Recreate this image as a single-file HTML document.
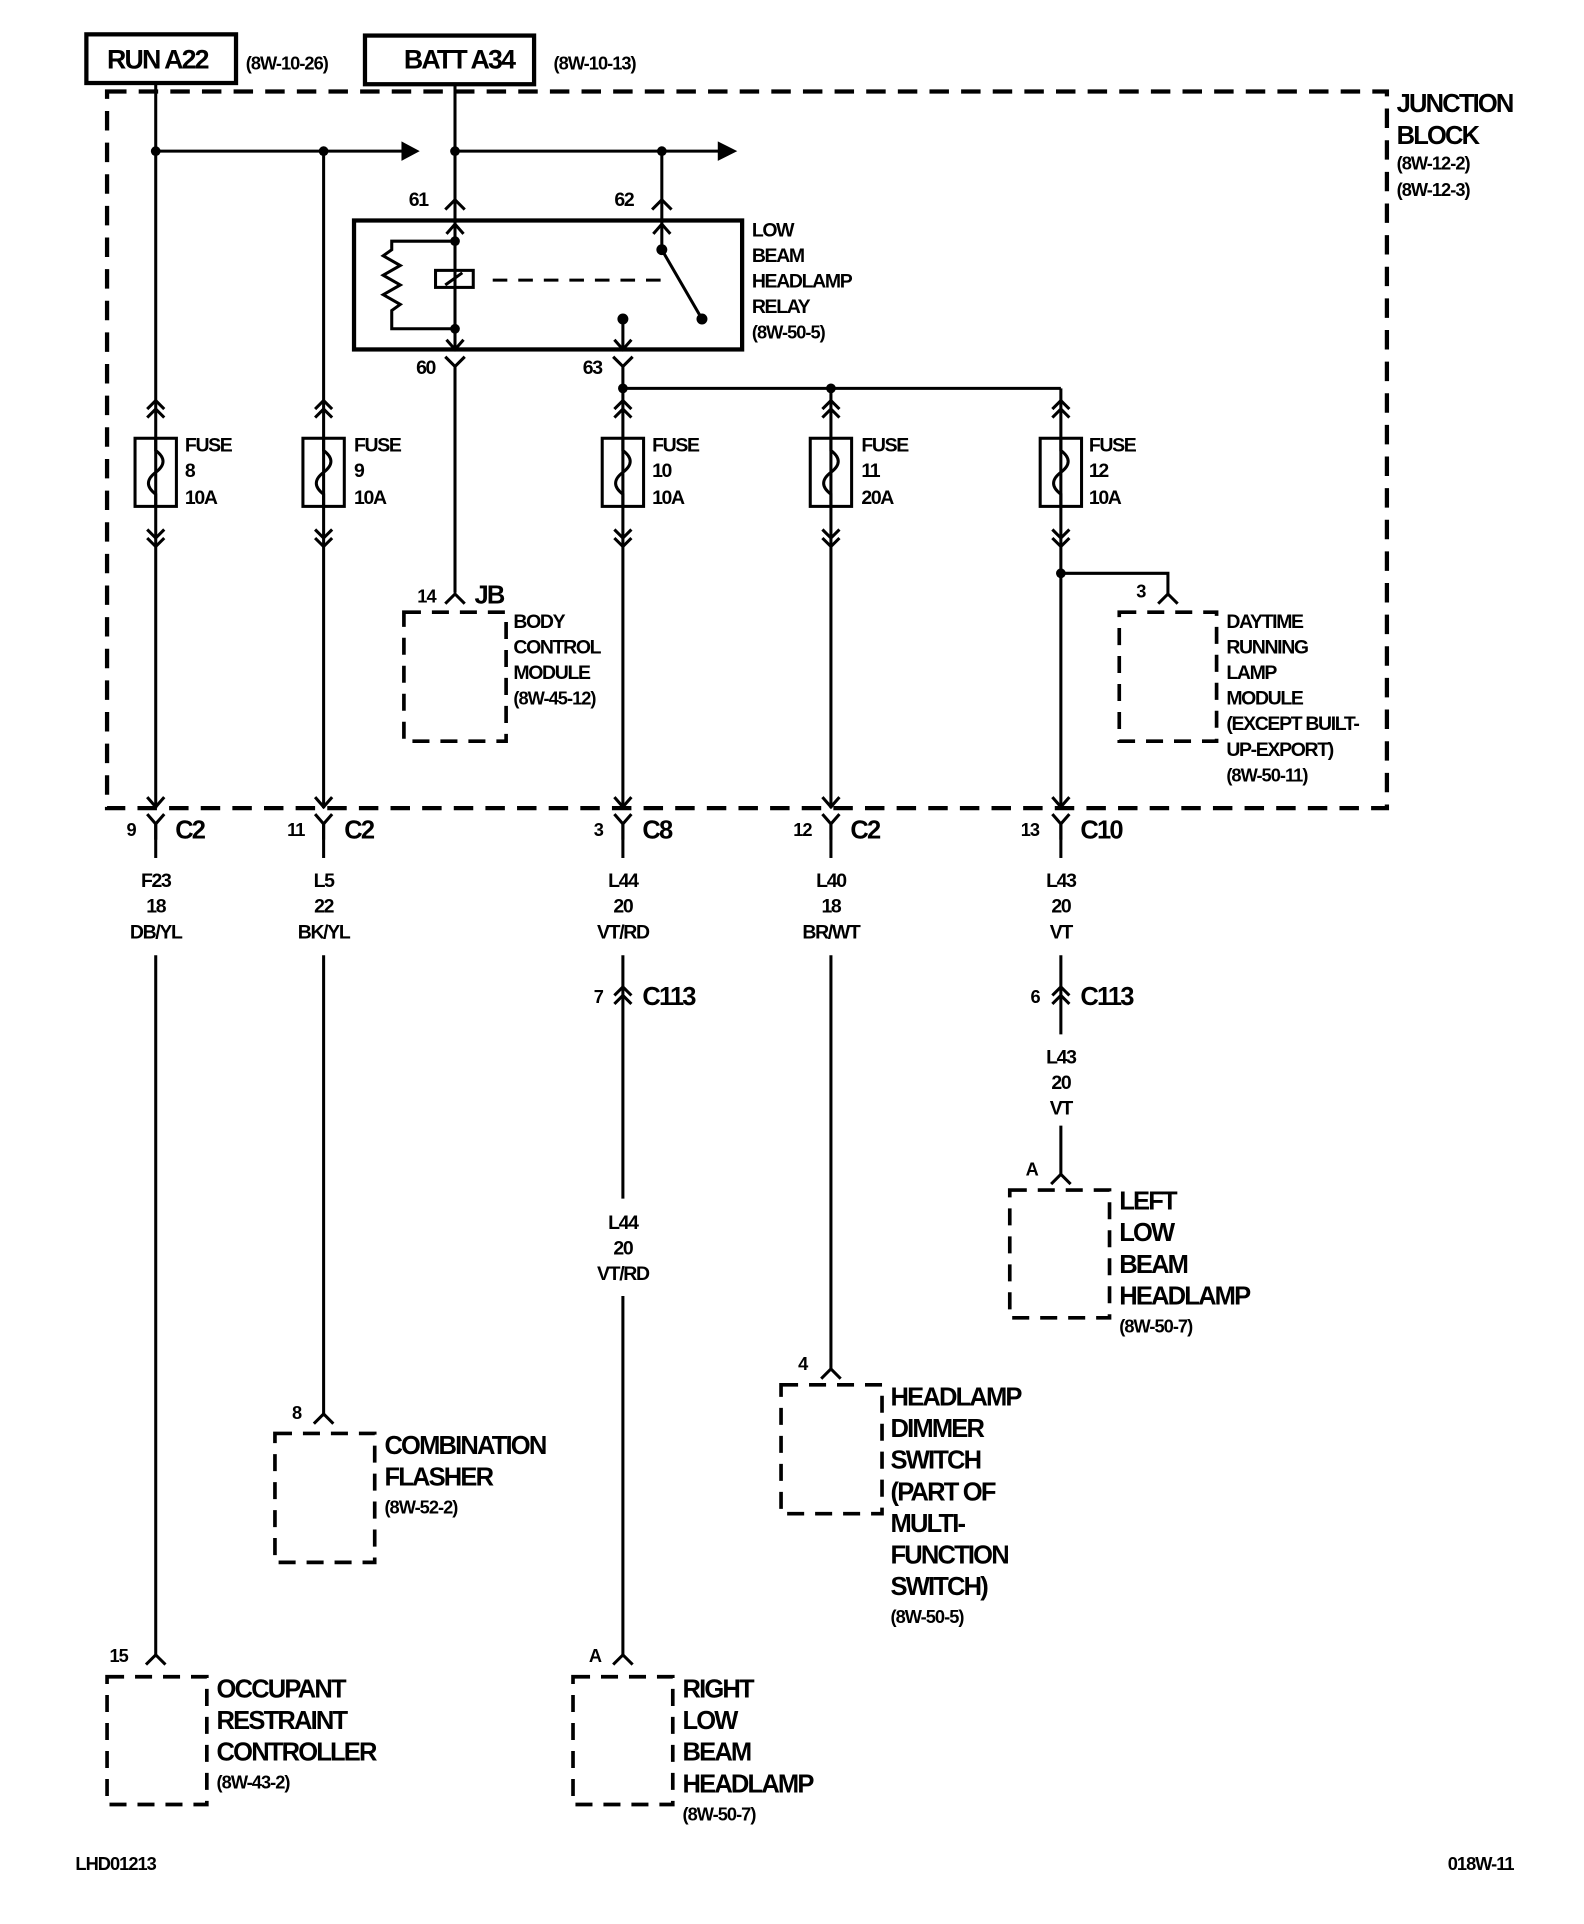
<!DOCTYPE html>
<html><head><meta charset="utf-8">
<style>
html,body{margin:0;padding:0;background:#fff;}
svg{display:block;}
text{font-family:"Liberation Sans Narrow","Liberation Sans",sans-serif;font-weight:bold;fill:#000;}
.s{font-size:15px;letter-spacing:-0.8px;}
.m{font-size:16px;letter-spacing:-1.1px;}
.b{font-size:21px;letter-spacing:-1.5px;}
</style></head><body>
<svg width="1584" height="1924" viewBox="0 0 1302 1581" xmlns="http://www.w3.org/2000/svg">
<g fill="none" stroke="#000" stroke-width="2.5">
<rect x="71" y="28" width="123" height="40" stroke-width="3.5"/>
<rect x="300" y="29" width="139" height="40" stroke-width="3.5"/>
<rect x="88" y="75" width="1052" height="589" stroke-width="3.5" stroke-dasharray="16 10"/>
<line x1="128" y1="68" x2="128" y2="664"/>
<line x1="128" y1="124" x2="332" y2="124"/>
<line x1="266" y1="124" x2="266" y2="664"/>
<line x1="374" y1="69" x2="374" y2="180"/>
<line x1="374" y1="124" x2="592" y2="124"/>
<line x1="544" y1="124" x2="544" y2="180"/>
<rect x="291" y="181" width="319" height="106" stroke-width="3.5"/>
<path d="M374 180 V287"/>
<path d="M374 198 H322 V205 l-7 5 l14 8 l-14 8 l14 8 l-14 8 l14 8 l-7 5 V270 H374"/>
<rect x="358" y="222" width="31" height="14"/>
<line x1="366" y1="234" x2="380" y2="224"/>
<line x1="405" y1="230" x2="545" y2="230" stroke-dasharray="12 9"/>
<path d="M544 180 V205 L577 262"/>
<path d="M512 262 V287"/>
<path d="M505 279 L512 287 L519 279"/>
<path d="M367 279 L374 287 L381 279"/>
<path d="M367 192 L374 184 L381 192"/>
<path d="M537 192 L544 184 L551 192"/>
<path d="M366 172 L374 164 L382 172"/>
<path d="M536 172 L544 164 L552 172"/>
<path d="M366 293 L374 301 L382 293 M374 301 V487"/>
<path d="M504 293 L512 301 L520 293 M512 301 V664"/>
<line x1="512" y1="319" x2="872" y2="319"/>
<line x1="683" y1="319" x2="683" y2="664"/>
<line x1="872" y1="319" x2="872" y2="664"/>
<path d="M366 496 L374 488 L382 496"/>
<rect x="332" y="503" width="84" height="106" stroke-width="3" stroke-dasharray="14 9"/>
<path d="M872 471 H960 V490"/>
<path d="M952 496 L960 488 L968 496"/>
<rect x="920" y="503" width="80" height="106" stroke-width="3" stroke-dasharray="14 9"/>
<line x1="128" y1="675" x2="128" y2="705"/><line x1="128" y1="785" x2="128" y2="1362"/>
<line x1="266" y1="675" x2="266" y2="705"/><line x1="266" y1="785" x2="266" y2="1164"/>
<line x1="512" y1="675" x2="512" y2="705"/><line x1="512" y1="785" x2="512" y2="985"/><line x1="512" y1="1065" x2="512" y2="1362"/>
<line x1="683" y1="675" x2="683" y2="705"/><line x1="683" y1="785" x2="683" y2="1125"/>
<line x1="872" y1="675" x2="872" y2="705"/><line x1="872" y1="785" x2="872" y2="850"/><line x1="872" y1="925" x2="872" y2="965"/>
<path d="M505 818 L512 811 L519 818 M505 825 L512 818 L519 825"/>
<path d="M865 818 L872 811 L879 818 M865 825 L872 818 L879 825"/>
<path d="M120 1368 L128 1360 L136 1368"/>
<path d="M258 1170 L266 1162 L274 1170"/>
<path d="M504 1368 L512 1360 L520 1368"/>
<path d="M675 1133 L683 1125 L691 1133"/>
<path d="M864 973 L872 965 L880 973"/>
<rect x="830" y="978" width="82" height="105" stroke-width="3" stroke-dasharray="14 9"/>
<rect x="642" y="1138" width="83" height="106" stroke-width="3" stroke-dasharray="14 9"/>
<rect x="226" y="1178" width="82" height="106" stroke-width="3" stroke-dasharray="14 9"/>
<rect x="88" y="1378" width="82" height="105" stroke-width="3" stroke-dasharray="14 9"/>
<rect x="471" y="1378" width="82" height="105" stroke-width="3" stroke-dasharray="14 9"/>
</g>
<g fill="#000">
<polygon points="330,116 345,124 330,132"/>
<polygon points="590,116 606,124 590,132"/>
<circle cx="128" cy="124" r="4"/><circle cx="266" cy="124" r="4"/>
<circle cx="374" cy="124" r="4"/><circle cx="544" cy="124" r="4"/>
<circle cx="374" cy="198" r="4"/><circle cx="374" cy="270" r="4"/>
<circle cx="544" cy="205" r="4.5"/><circle cx="577" cy="262" r="4.5"/><circle cx="512" cy="262" r="4.5"/>
<circle cx="512" cy="319" r="4"/><circle cx="683" cy="319" r="4"/><circle cx="872" cy="471" r="4"/>
</g>
<g fill="none" stroke="#000" stroke-width="2.5">
<g transform="translate(128,0)"><path d="M-7 336 L0 329 L7 336 M-7 343 L0 336 L7 343"/><rect x="-17" y="360" width="34" height="56"/><path d="M0 360 V370 c8 6 8 12 0 18 c-8 6 -8 12 0 18 V416"/><path d="M-7 435 L0 442 L7 435 M-7 442 L0 449 L7 442"/><path d="M-7 655 L0 663 L7 655"/><path d="M-7 669 L0 677 L7 669 M0 677 V690"/></g>
<g transform="translate(266,0)"><path d="M-7 336 L0 329 L7 336 M-7 343 L0 336 L7 343"/><rect x="-17" y="360" width="34" height="56"/><path d="M0 360 V370 c8 6 8 12 0 18 c-8 6 -8 12 0 18 V416"/><path d="M-7 435 L0 442 L7 435 M-7 442 L0 449 L7 442"/><path d="M-7 655 L0 663 L7 655"/><path d="M-7 669 L0 677 L7 669 M0 677 V690"/></g>
<g transform="translate(512,0)"><path d="M-7 336 L0 329 L7 336 M-7 343 L0 336 L7 343"/><rect x="-17" y="360" width="34" height="56"/><path d="M0 360 V370 c8 6 8 12 0 18 c-8 6 -8 12 0 18 V416"/><path d="M-7 435 L0 442 L7 435 M-7 442 L0 449 L7 442"/><path d="M-7 655 L0 663 L7 655"/><path d="M-7 669 L0 677 L7 669 M0 677 V690"/></g>
<g transform="translate(683,0)"><path d="M-7 336 L0 329 L7 336 M-7 343 L0 336 L7 343"/><rect x="-17" y="360" width="34" height="56"/><path d="M0 360 V370 c8 6 8 12 0 18 c-8 6 -8 12 0 18 V416"/><path d="M-7 435 L0 442 L7 435 M-7 442 L0 449 L7 442"/><path d="M-7 655 L0 663 L7 655"/><path d="M-7 669 L0 677 L7 669 M0 677 V690"/></g>
<g transform="translate(872,0)"><path d="M-7 336 L0 329 L7 336 M-7 343 L0 336 L7 343"/><rect x="-17" y="360" width="34" height="56"/><path d="M0 360 V370 c8 6 8 12 0 18 c-8 6 -8 12 0 18 V416"/><path d="M-7 435 L0 442 L7 435 M-7 442 L0 449 L7 442"/><path d="M-7 655 L0 663 L7 655"/><path d="M-7 669 L0 677 L7 669 M0 677 V690"/></g>
</g>
<text x="88" y="56" style="font-size:22px;letter-spacing:-1.5px">RUN A22</text>
<text x="202" y="57" class="s">(8W-10-26)</text>
<text x="332" y="56" style="font-size:22px;letter-spacing:-1.5px">BATT A34</text>
<text x="455" y="57" class="s">(8W-10-13)</text>
<text x="1148" y="92" class="b">JUNCTION</text>
<text x="1148" y="118" class="b">BLOCK</text>
<text x="1148" y="139" class="s">(8W-12-2)</text>
<text x="1148" y="161" class="s">(8W-12-3)</text>
<text x="336" y="169" class="m">61</text>
<text x="505" y="169" class="m">62</text>
<text x="342" y="307" class="m">60</text>
<text x="479" y="307" class="m">63</text>
<text x="618" y="194" class="m">LOW</text>
<text x="618" y="215" class="m">BEAM</text>
<text x="618" y="236" class="m">HEADLAMP</text>
<text x="618" y="257" class="m">RELAY</text>
<text x="618" y="278" class="s">(8W-50-5)</text>
<text x="152" y="371" class="m">FUSE</text><text x="152" y="392" class="m">8</text><text x="152" y="414" class="m">10A</text>
<text x="291" y="371" class="m">FUSE</text><text x="291" y="392" class="m">9</text><text x="291" y="414" class="m">10A</text>
<text x="536" y="371" class="m">FUSE</text><text x="536" y="392" class="m">10</text><text x="536" y="414" class="m">10A</text>
<text x="708" y="371" class="m">FUSE</text><text x="708" y="392" class="m">11</text><text x="708" y="414" class="m">20A</text>
<text x="895" y="371" class="m">FUSE</text><text x="895" y="392" class="m">12</text><text x="895" y="414" class="m">10A</text>
<text x="343" y="495" class="s">14</text><text x="390" y="496" class="b">JB</text>
<text x="422" y="516" class="m">BODY</text><text x="422" y="537" class="m">CONTROL</text><text x="422" y="558" class="m">MODULE</text><text x="422" y="579" class="s">(8W-45-12)</text>
<text x="934" y="491" class="s">3</text>
<text x="1008" y="516" class="m">DAYTIME</text><text x="1008" y="537" class="m">RUNNING</text><text x="1008" y="558" class="m">LAMP</text><text x="1008" y="579" class="m">MODULE</text><text x="1008" y="600" class="m">(EXCEPT BUILT-</text><text x="1008" y="621" class="m">UP-EXPORT)</text><text x="1008" y="642" class="s">(8W-50-11)</text>
<text x="104" y="687" class="s">9</text><text x="144" y="689" class="b">C2</text>
<text x="236" y="687" class="s">11</text><text x="283" y="689" class="b">C2</text>
<text x="488" y="687" class="s">3</text><text x="528" y="689" class="b">C8</text>
<text x="652" y="687" class="s">12</text><text x="699" y="689" class="b">C2</text>
<text x="839" y="687" class="s">13</text><text x="888" y="689" class="b">C10</text>
<g text-anchor="middle">
<text x="128" y="729" class="m">F23</text><text x="128" y="750" class="m">18</text><text x="128" y="771" class="m">DB/YL</text>
<text x="266" y="729" class="m">L5</text><text x="266" y="750" class="m">22</text><text x="266" y="771" class="m">BK/YL</text>
<text x="512" y="729" class="m">L44</text><text x="512" y="750" class="m">20</text><text x="512" y="771" class="m">VT/RD</text>
<text x="683" y="729" class="m">L40</text><text x="683" y="750" class="m">18</text><text x="683" y="771" class="m">BR/WT</text>
<text x="872" y="729" class="m">L43</text><text x="872" y="750" class="m">20</text><text x="872" y="771" class="m">VT</text>
<text x="872" y="874" class="m">L43</text><text x="872" y="895" class="m">20</text><text x="872" y="916" class="m">VT</text>
<text x="512" y="1010" class="m">L44</text><text x="512" y="1031" class="m">20</text><text x="512" y="1052" class="m">VT/RD</text>
</g>
<text x="488" y="824" class="s">7</text><text x="528" y="826" class="b">C113</text>
<text x="847" y="824" class="s">6</text><text x="888" y="826" class="b">C113</text>
<text x="843" y="966" class="s">A</text>
<text x="920" y="994" class="b">LEFT</text><text x="920" y="1020" class="b">LOW</text><text x="920" y="1046" class="b">BEAM</text><text x="920" y="1072" class="b">HEADLAMP</text><text x="920" y="1095" class="s">(8W-50-7)</text>
<text x="656" y="1126" class="s">4</text>
<text x="732" y="1155" class="b">HEADLAMP</text><text x="732" y="1181" class="b">DIMMER</text><text x="732" y="1207" class="b">SWITCH</text><text x="732" y="1233" class="b">(PART OF</text><text x="732" y="1259" class="b">MULTI-</text><text x="732" y="1285" class="b">FUNCTION</text><text x="732" y="1311" class="b">SWITCH)</text><text x="732" y="1334" class="s">(8W-50-5)</text>
<text x="240" y="1166" class="s">8</text>
<text x="316" y="1195" class="b">COMBINATION</text><text x="316" y="1221" class="b">FLASHER</text><text x="316" y="1244" class="s">(8W-52-2)</text>
<text x="90" y="1366" class="s">15</text>
<text x="178" y="1395" class="b">OCCUPANT</text><text x="178" y="1421" class="b">RESTRAINT</text><text x="178" y="1447" class="b">CONTROLLER</text><text x="178" y="1470" class="s">(8W-43-2)</text>
<text x="484" y="1366" class="s">A</text>
<text x="561" y="1395" class="b">RIGHT</text><text x="561" y="1421" class="b">LOW</text><text x="561" y="1447" class="b">BEAM</text><text x="561" y="1473" class="b">HEADLAMP</text><text x="561" y="1496" class="s">(8W-50-7)</text>
<text x="62" y="1537" class="s">LHD01213</text>
<text x="1190" y="1537" class="s">018W-11</text>
</svg>
</body></html>
